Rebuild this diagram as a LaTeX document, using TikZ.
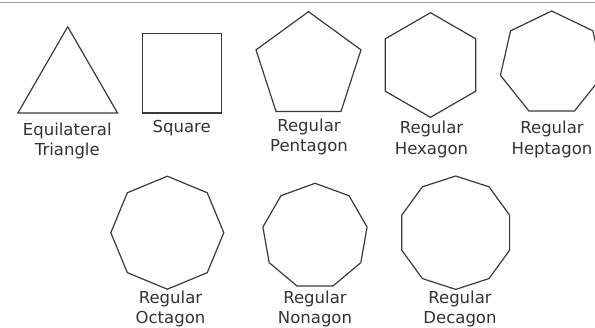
\documentclass[tikz,border=0pt]{standalone}
\usepackage{fontspec}
\setmainfont{DejaVu Sans}
\usetikzlibrary{shapes.geometric}
\definecolor{edgegray}{HTML}{3A3A3A}
\definecolor{rulegray}{HTML}{A0A0A0}

\begin{document}
\begin{tikzpicture}[
    x=1pt,y=-1pt,
    every node/.style={font=\fontsize{16.5}{20.5}\selectfont, text=black!80},
    poly/.style={draw=edgegray, line width=1.2pt, regular polygon, inner sep=0pt, outer sep=0pt},
    caption/.style={anchor=north, align=center, inner sep=0pt}
]
    \useasboundingbox (0,0) rectangle (595,327);
    \clip (0,0) rectangle (595,327);
    \draw[rulegray, line width=1pt] (0,2) -- (595,2);

    % top row
    \node[poly, regular polygon sides=3, minimum size=115pt]  (tri)  at (67.7,84.2) {};
    \node[poly, regular polygon sides=4, minimum size=112.4pt] (sq)  at (182,73.3) {};
    \node[poly, regular polygon sides=5, minimum size=110.4pt] (pent) at (308.5,66.9) {};
    \node[poly, regular polygon sides=6, minimum size=104.6pt, shape border rotate=30] (hex) at (430.5,65) {};
    \node[poly, regular polygon sides=7, minimum size=105.2pt] (hept) at (551.7,63.6) {};

    \node[caption] (tri-t)  at (67.3,122.5)  {Equilateral\\Triangle};
    \node[caption] (sq-t)   at (181.7,120.2) {Square};
    \node[caption] (pent-t) at (309,118.5)   {Regular\\Pentagon};
    \node[caption] (hex-t)  at (431.5,120.8) {Regular\\Hexagon};
    \node[caption] (hept-t) at (552,120.8)   {Regular\\Heptagon};

    % bottom row
    \node[poly, regular polygon sides=8, minimum size=113pt, shape border rotate=22.5] (oct) at (167.3,232.7) {};
    \node[poly, regular polygon sides=9, minimum size=105.8pt] (non) at (315,236.2) {};
    \node[poly, regular polygon sides=10, minimum size=113.4pt, shape border rotate=18] (dec) at (455.7,232.7) {};

    \node[caption] (oct-t) at (170.5,290.5) {Regular\\Octagon};
    \node[caption] (non-t) at (315,290.5)   {Regular\\Nonagon};
    \node[caption] (dec-t) at (460,290.5)   {Regular\\Decagon};
\end{tikzpicture}
\end{document}
